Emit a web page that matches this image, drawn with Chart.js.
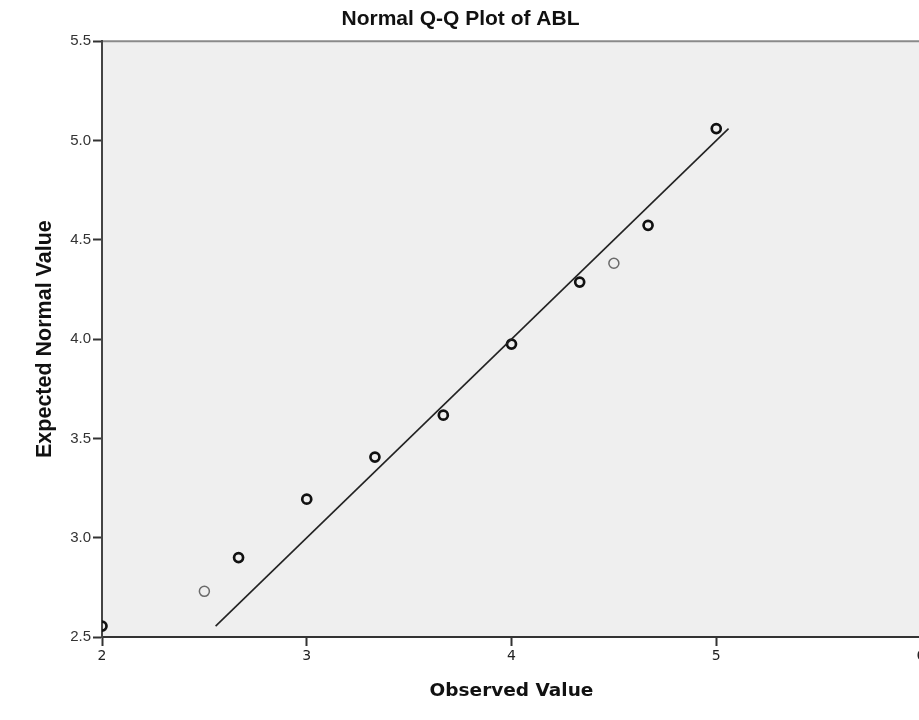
<!DOCTYPE html>
<html>
<head>
<meta charset="utf-8">
<script src="https://cdn.jsdelivr.net/npm/chart.js@4"></script>
<style>
  body { margin: 0; background: #fff; overflow: hidden; width: 919px; height: 720px; }
</style>
</head>
<body>
<canvas id="qq" width="925" height="720"></canvas>
<script>
const observed = [2, 2.667, 3, 3.333, 3.667, 4, 4.333, 4.667, 5];
const expected = [2.555, 2.90, 3.194, 3.406, 3.617, 3.975, 4.287, 4.573, 5.06];
// the two lighter points
const observedLight = [2.5, 4.5];
const expectedLight = [2.73, 4.382];
// reference line y = x
const lineX = [2.555, 5.06];
const lineY = [2.555, 5.06];
const xTicks = [2, 3, 4, 5, 6];
const yTicks = [2.5, 3.0, 3.5, 4.0, 4.5, 5.0, 5.5];

const toXY = (xs, ys) => xs.map((x, i) => ({ x: x, y: ys[i] }));

// grey plot background + top border line
const plotBg = {
  id: "plotBg",
  beforeDraw(chart) {
    const { ctx, chartArea: a } = chart;
    ctx.save();
    ctx.fillStyle = "#efefef";
    ctx.fillRect(a.left, a.top, a.right - a.left, a.bottom - a.top);
    ctx.strokeStyle = "#8a8a8a";
    ctx.lineWidth = 2;
    ctx.beginPath();
    ctx.moveTo(a.left, a.top);
    ctx.lineTo(a.right + 5, a.top);
    ctx.stroke();
    ctx.restore();
  }
};

const noEdgePad = (scale) => {
  scale.paddingLeft = 0;
  scale.paddingRight = 0;
  scale.paddingTop = 0;
  scale.paddingBottom = 0;
};

new Chart(document.getElementById("qq").getContext("2d"), {
  type: "scatter",
  data: {
    datasets: [
      {
        type: "line",
        data: toXY(lineX, lineY),
        borderColor: "#222",
        borderWidth: 1.6,
        pointRadius: 0,
        fill: false,
        clip: 0
      },
      {
        data: toXY(observed, expected),
        borderColor: "#111",
        backgroundColor: "rgba(0,0,0,0)",
        borderWidth: 2.7,
        pointRadius: 4.5,
        clip: 0
      },
      {
        data: toXY(observedLight, expectedLight),
        borderColor: "#6a6a6a",
        backgroundColor: "rgba(0,0,0,0)",
        borderWidth: 1.5,
        pointRadius: 5,
        clip: 0
      }
    ]
  },
  options: {
    responsive: false,
    animation: false,
    layout: { autoPadding: false, padding: { left: 0, right: 4, top: 0, bottom: 0 } },
    plugins: {
      legend: { display: false },
      tooltip: { enabled: false },
      title: {
        display: true,
        text: "Normal Q-Q Plot of ABL",
        color: "#111",
        font: { family: "Liberation Sans", size: 21, weight: "bold", lineHeight: 1.2 },
        padding: { top: 7, bottom: 9 }
      }
    },
    scales: {
      x: {
        type: "linear",
        min: 2,
        max: 6,
        afterBuildTicks: (s) => { s.ticks = xTicks.map((v) => ({ value: v })); },
        afterFit: (s) => { s.height = 83; noEdgePad(s); },
        ticks: {
          color: "#222",
          font: { family: "DejaVu Sans", size: 14 },
          padding: 2,
          maxRotation: 0,
          callback: (v) => String(v)
        },
        grid: { drawOnChartArea: false, tickLength: 9, tickWidth: 2, tickColor: "#333" },
        border: { color: "#333", width: 2 },
        title: {
          display: true,
          text: "Observed Value",
          color: "#111",
          font: { family: "DejaVu Sans", size: 18.5, weight: "bold", lineHeight: 1.2 },
          padding: { top: 0, bottom: 18 }
        }
      },
      y: {
        type: "linear",
        min: 2.5,
        max: 5.5,
        afterBuildTicks: (s) => { s.ticks = yTicks.map((v) => ({ value: v })); },
        afterFit: (s) => { s.width = 102; noEdgePad(s); },
        ticks: {
          color: "#333",
          font: { family: "Liberation Sans", size: 15 },
          padding: 2,
          callback: (v) => v.toFixed(1)
        },
        grid: { drawOnChartArea: false, tickLength: 9, tickWidth: 2, tickColor: "#333" },
        border: { color: "#444", width: 2 },
        title: {
          display: true,
          text: "Expected Normal Value",
          color: "#111",
          font: { family: "Liberation Sans", size: 21.5, weight: "bold", lineHeight: 1.2 },
          padding: { top: 32, bottom: 0 }
        }
      }
    }
  },
  plugins: [plotBg]
});
</script>
</body>
</html>
